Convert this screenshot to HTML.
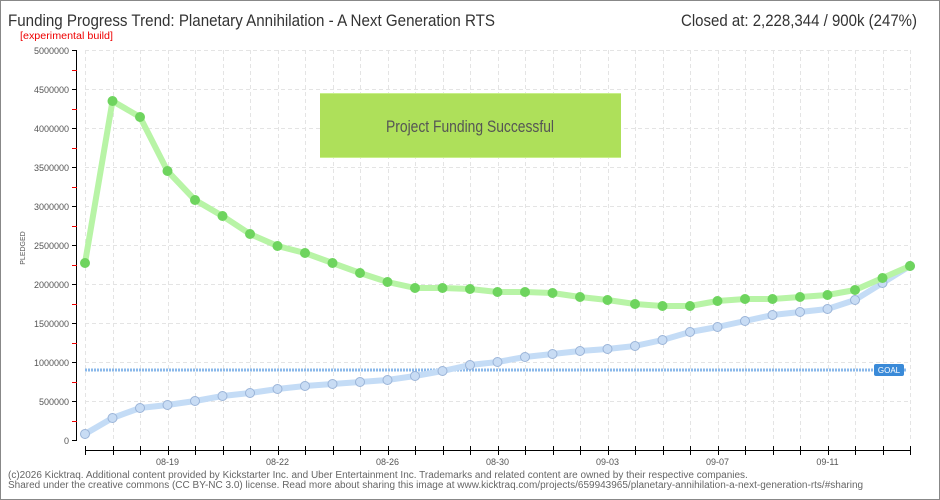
<!DOCTYPE html>
<html><head><meta charset="utf-8"><style>
html,body{margin:0;padding:0;background:#fff}
svg{display:block;font-family:"Liberation Sans",sans-serif}
</style></head><body>
<svg width="940" height="500" viewBox="0 0 940 500" xmlns="http://www.w3.org/2000/svg">
<rect x="0.5" y="0.5" width="939" height="499" fill="#fff" stroke="#888"/>
<text x="8" y="26" font-size="17" fill="#333" textLength="487" lengthAdjust="spacingAndGlyphs">Funding Progress Trend: Planetary Annihilation - A Next Generation RTS</text>
<text x="681" y="26" font-size="17" fill="#333" textLength="236" lengthAdjust="spacingAndGlyphs">Closed at:  2,228,344 /  900k (247%)</text>
<text x="20" y="39" font-size="10" fill="#e00" textLength="93" lengthAdjust="spacingAndGlyphs">[experimental build]</text>
<g stroke="#e4e4e4" stroke-dasharray="4,3" stroke-width="1">
<line x1="85" y1="50.5" x2="910" y2="50.5"/><line x1="85" y1="89.5" x2="910" y2="89.5"/><line x1="85" y1="128.5" x2="910" y2="128.5"/><line x1="85" y1="167.5" x2="910" y2="167.5"/><line x1="85" y1="206.5" x2="910" y2="206.5"/><line x1="85" y1="245.5" x2="910" y2="245.5"/><line x1="85" y1="284.5" x2="910" y2="284.5"/><line x1="85" y1="323.5" x2="910" y2="323.5"/><line x1="85" y1="362.5" x2="910" y2="362.5"/><line x1="85" y1="401.5" x2="910" y2="401.5"/>
</g>
<g id="vg" stroke="#e4e4e4" stroke-dasharray="4,3"></g>
<rect x="320" y="93" width="301" height="65" fill="#aee05a"/>
<line x1="320" y1="93.5" x2="621" y2="93.5" stroke="#c8ef8a"/>
<line x1="320" y1="157.5" x2="621" y2="157.5" stroke="#c8ef8a"/>
<text x="470" y="132" font-size="17" fill="#555" text-anchor="middle" textLength="168" lengthAdjust="spacingAndGlyphs">Project Funding Successful</text>
<line x1="76.5" y1="50" x2="76.5" y2="441" stroke="#000"/>
<g id="yt"></g>
<text transform="translate(25,248) rotate(-90)" font-size="7" fill="#555" text-anchor="middle">PLEDGED</text>
<line x1="85" y1="450.5" x2="910" y2="450.5" stroke="#000"/>
<g id="xt"></g>
<line x1="85" y1="370" x2="906" y2="370" stroke="#8ab8ea" stroke-width="3" stroke-dasharray="2,1"/>
<rect x="874" y="364" width="30" height="12" rx="2" fill="#3a8ad8"/>
<text x="889" y="373" font-size="8" fill="#fff" text-anchor="middle">GOAL</text>
<g id="series"></g>
<text x="8" y="478" font-size="10" fill="#666">(c)2026 Kicktraq. Additional content provided by Kickstarter Inc. and Uber Entertainment Inc. Trademarks and related content are owned by their respective companies.</text>
<text x="8" y="488" font-size="10" fill="#666">Shared under the creative commons (CC BY-NC 3.0) license. Read more about sharing this image at www.kicktraq.com/projects/659943965/planetary-annihilation-a-next-generation-rts/#sharing</text>
</svg>
<script>
var ns="http://www.w3.org/2000/svg";
function el(p,t,a,txt){var e=document.createElementNS(ns,t);for(var k in a)e.setAttribute(k,a[k]);if(txt)e.textContent=txt;p.appendChild(e);return e;}
var vg=document.getElementById('vg'),xt=document.getElementById('xt'),yt=document.getElementById('yt'),s=document.getElementById('series');
var X=function(i){return 85+i*27.5;};
for(var i=0;i<31;i++){var x=Math.round(X(i))+0.5;el(vg,'line',{x1:x,y1:50,x2:x,y2:440});el(xt,'line',{x1:x,y1:446,x2:x,y2:455,stroke:'#000'});}
var labs={3:'08-19',7:'08-22',11:'08-26',15:'08-30',19:'09-03',23:'09-07',27:'09-11'};
for(var k in labs)el(xt,'text',{x:X(+k),y:465,'font-size':9,fill:'#555','text-anchor':'middle'},labs[k]);
for(var j=0;j<=10;j++){var y=440-j*39;el(yt,'line',{x1:72,y1:y+0.5,x2:77,y2:y+0.5,stroke:'#000'});
el(yt,'text',{x:69,y:y+4,'font-size':9,fill:'#555','text-anchor':'end'},String(j*500000));
if(j<10)el(yt,'line',{x1:72,y1:y-19+0.5,x2:77,y2:y-19+0.5,stroke:'#e00'});}
var g=[263,101,117,171,200,216,234,246,253,263,273,282,288,288,289,292,292,293,297,300,304,306,306,301,299,299,297,295,290,278,266];
var b=[434,418,408,405,401,396,393,389,386,384,382,380,376,371,365,362,357,354,351,349,346,340,332,327,321,315,309,300,283,266];
b=[434,418,408,405,401,396,393,389,386,384,382,380,376,371,365,362,357,354,351,349,346,340,332,327,321,315,309,300,283,266,266];
b=[434,418,408,405,401,396,393,389,386,384,382,380,376,371,365,362,357,354,351,349,346,340,332,327,321,315,309,300,283,266];
b.splice(26,0,312);
function draw(d,lc,fc,sc){var p=d.map(function(v,i){return X(i)+','+v;}).join(' ');
el(s,'polyline',{points:p,fill:'none',stroke:lc,'stroke-width':6,'stroke-linejoin':'round'});
d.forEach(function(v,i){el(s,'circle',{cx:X(i),cy:v,r:4.5,fill:fc,stroke:sc,'stroke-width':1});});}
draw(b,'#c4dcf6','#c8dcf4','#9ab4d8');
draw(g,'#b8f4a6','#6ed45e','#6ed45e');
</script>
</body></html>
